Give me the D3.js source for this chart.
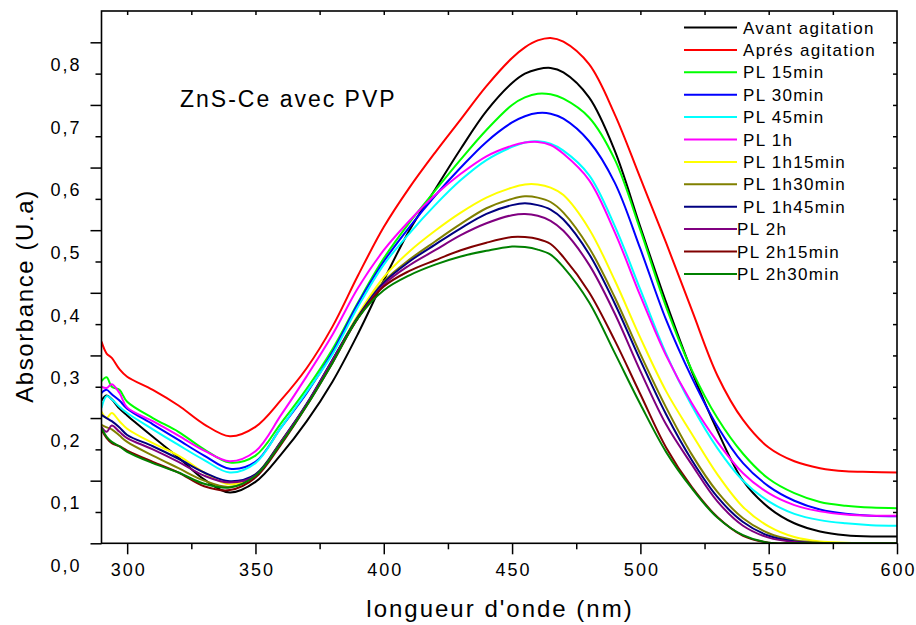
<!DOCTYPE html>
<html>
<head>
<meta charset="utf-8">
<script src="https://cdn.jsdelivr.net/npm/d3@7"></script>
<style>
    body { margin: 0; background: #fff; }
    svg { display: block; }
    text { font-family: "Liberation Sans", Arial, sans-serif; fill: #000; }
</style>
</head>
<body>
<svg id="chart"></svg>
<script>
// Wavelengths (nm) shared by every spectrum
const wavelength = [290, 292, 294, 297, 300, 310, 320, 330, 340, 350, 360, 370, 380, 390, 400, 410, 420, 430, 440, 450, 455, 460, 465, 470, 480, 490, 500, 510, 520, 530, 540, 550, 560, 570, 580, 590, 600];

// Absorbance values
const avantAgitation = [0.228, 0.236, 0.230, 0.215, 0.204, 0.170, 0.137, 0.102, 0.081, 0.098, 0.142, 0.195, 0.258, 0.335, 0.420, 0.500, 0.565, 0.630, 0.690, 0.735, 0.750, 0.757, 0.759, 0.752, 0.712, 0.627, 0.505, 0.385, 0.275, 0.180, 0.100, 0.057, 0.032, 0.019, 0.013, 0.011, 0.011];
const apresAgitation = [0.322, 0.303, 0.296, 0.278, 0.266, 0.245, 0.220, 0.190, 0.171, 0.186, 0.229, 0.280, 0.346, 0.428, 0.505, 0.568, 0.624, 0.677, 0.730, 0.775, 0.792, 0.803, 0.807, 0.801, 0.765, 0.685, 0.583, 0.480, 0.373, 0.268, 0.197, 0.153, 0.131, 0.120, 0.115, 0.114, 0.113];
const pl15 = [0.259, 0.265, 0.250, 0.245, 0.226, 0.200, 0.178, 0.150, 0.129, 0.140, 0.192, 0.247, 0.310, 0.385, 0.455, 0.512, 0.563, 0.613, 0.660, 0.700, 0.712, 0.718, 0.717, 0.710, 0.680, 0.613, 0.500, 0.378, 0.277, 0.200, 0.143, 0.103, 0.080, 0.066, 0.060, 0.057, 0.056];
const pl30 = [0.240, 0.245, 0.238, 0.228, 0.215, 0.190, 0.165, 0.140, 0.119, 0.130, 0.185, 0.240, 0.305, 0.383, 0.450, 0.505, 0.555, 0.600, 0.641, 0.672, 0.682, 0.687, 0.686, 0.678, 0.642, 0.576, 0.470, 0.357, 0.265, 0.187, 0.128, 0.091, 0.068, 0.054, 0.047, 0.044, 0.043];
const pl45 = [0.216, 0.235, 0.230, 0.218, 0.208, 0.182, 0.157, 0.133, 0.113, 0.128, 0.185, 0.242, 0.302, 0.378, 0.445, 0.495, 0.540, 0.580, 0.612, 0.633, 0.640, 0.642, 0.638, 0.627, 0.588, 0.507, 0.405, 0.303, 0.220, 0.152, 0.100, 0.067, 0.047, 0.037, 0.032, 0.029, 0.028];
const pl1h = [0.250, 0.248, 0.254, 0.240, 0.217, 0.195, 0.172, 0.148, 0.131, 0.147, 0.205, 0.267, 0.333, 0.408, 0.468, 0.515, 0.556, 0.590, 0.618, 0.635, 0.640, 0.641, 0.636, 0.622, 0.580, 0.497, 0.395, 0.300, 0.224, 0.162, 0.112, 0.080, 0.061, 0.051, 0.046, 0.044, 0.044];
const pl1h15 = [0.210, 0.200, 0.208, 0.195, 0.183, 0.160, 0.140, 0.113, 0.094, 0.110, 0.163, 0.222, 0.292, 0.365, 0.425, 0.466, 0.499, 0.528, 0.552, 0.568, 0.573, 0.573, 0.568, 0.556, 0.502, 0.420, 0.328, 0.243, 0.175, 0.110, 0.058, 0.027, 0.010, 0.003, 0.001, 0, 0];
const pl1h30 = [0.189, 0.185, 0.182, 0.172, 0.162, 0.140, 0.120, 0.100, 0.090, 0.108, 0.162, 0.222, 0.292, 0.362, 0.418, 0.453, 0.482, 0.510, 0.535, 0.550, 0.554, 0.552, 0.545, 0.528, 0.472, 0.393, 0.302, 0.217, 0.142, 0.082, 0.040, 0.016, 0.005, 0.001, 0, 0, 0];
const pl1h45 = [0.205, 0.200, 0.195, 0.185, 0.173, 0.155, 0.135, 0.113, 0.099, 0.110, 0.163, 0.223, 0.293, 0.362, 0.416, 0.450, 0.477, 0.503, 0.526, 0.540, 0.543, 0.540, 0.533, 0.517, 0.462, 0.383, 0.292, 0.206, 0.133, 0.074, 0.034, 0.012, 0.003, 0, 0, 0, 0];
const pl2h = [0.186, 0.178, 0.188, 0.178, 0.168, 0.150, 0.130, 0.108, 0.097, 0.108, 0.162, 0.222, 0.292, 0.360, 0.413, 0.444, 0.468, 0.492, 0.511, 0.524, 0.526, 0.523, 0.515, 0.499, 0.445, 0.367, 0.275, 0.190, 0.126, 0.067, 0.028, 0.009, 0.002, 0, 0, 0, 0];
const pl2h15 = [0.181, 0.168, 0.160, 0.155, 0.148, 0.130, 0.113, 0.091, 0.085, 0.105, 0.158, 0.220, 0.288, 0.360, 0.410, 0.435, 0.452, 0.468, 0.480, 0.489, 0.489, 0.486, 0.478, 0.457, 0.401, 0.324, 0.238, 0.153, 0.090, 0.042, 0.012, 0.001, 0, 0, 0, 0, 0];
const pl2h30 = [0.184, 0.170, 0.162, 0.155, 0.146, 0.128, 0.113, 0.095, 0.089, 0.108, 0.160, 0.220, 0.288, 0.360, 0.404, 0.428, 0.445, 0.458, 0.467, 0.474, 0.473, 0.469, 0.461, 0.441, 0.385, 0.304, 0.222, 0.146, 0.088, 0.041, 0.013, 0.001, 0, 0, 0, 0, 0];

const seriesLabels = ["Avant agitation", "Aprés agitation", "PL 15min", "PL 30min", "PL 45min", "PL 1h", "PL 1h15min", "PL 1h30min", "PL 1h45min", "PL 2h", "PL 2h15min", "PL 2h30min"];
const seriesColors = ["#000000", "#ff0000", "#00ff00", "#0000ff", "#00ffff", "#ff00ff", "#ffff00", "#808000", "#000080", "#800080", "#800000", "#008000"];
const seriesValues = [avantAgitation, apresAgitation, pl15, pl30, pl45, pl1h, pl1h15, pl1h30, pl1h45, pl2h, pl2h15, pl2h30];

// Tick values
const xMajor = [300, 350, 400, 450, 500, 550, 600];
const xMinor = [325, 375, 425, 475, 525, 575];
const xTopTicks = [300, 325, 350, 375, 400, 425, 450, 475, 500, 525, 550, 575];
const yMajor = [0, 0.1, 0.2, 0.3, 0.4, 0.5, 0.6, 0.7, 0.8];
const yMinor = [0.05, 0.15, 0.25, 0.35, 0.45, 0.55, 0.65, 0.75];
const yRightTicks = [0.05, 0.1, 0.15, 0.2, 0.25, 0.3, 0.35, 0.4, 0.45, 0.5, 0.55, 0.6, 0.65, 0.7, 0.75, 0.8];

const width = 916;
const height = 625;
const plot = { left: 101.5, right: 897, top: 11, bottom: 543.3 };

const svg = d3.select("#chart").attr("width", width).attr("height", height);

const x = d3.scaleLinear().domain([290, 600]).range([plot.left, plot.right]);
const y = d3.scaleLinear().domain([0, 0.85]).range([plot.bottom, plot.top]);

// Curves
svg.append("clipPath").attr("id", "clip")
    .append("rect")
    .attr("x", plot.left).attr("y", plot.top)
    .attr("width", plot.right - plot.left).attr("height", plot.bottom - plot.top);

const line = d3.line()
    .x((d, i) => x(wavelength[i]))
    .y((d) => y(d))
    .curve(d3.curveCatmullRom.alpha(0.5));

svg.append("g")
    .attr("clip-path", "url(#clip)")
    .selectAll("path")
    .data(seriesValues)
    .join("path")
    .attr("d", line)
    .attr("fill", "none")
    .attr("stroke", (d, i) => seriesColors[i])
    .attr("stroke-width", 2)
    .attr("stroke-linejoin", "round");

// Axes
const fmt = (v) => d3.format(".1f")(v).replace(".", ",");

function styleAxis(g) {
    g.select(".domain").remove();
    g.selectAll(".tick line").attr("stroke", "#000").attr("stroke-width", 1.5);
}

svg.append("g")
    .attr("transform", `translate(0,${plot.bottom})`)
    .call(d3.axisBottom(x).tickValues(xMajor).tickSize(11).tickPadding(9).tickFormat(d3.format("d")))
    .call(styleAxis)
    .call((g) => g.selectAll("text")
        .attr("font-size", 18).attr("letter-spacing", "2px").attr("dx", "1px")
        .style("font-family", '"Liberation Sans", Arial, sans-serif'));

svg.append("g")
    .attr("transform", `translate(0,${plot.bottom})`)
    .call(d3.axisBottom(x).tickValues(xMinor).tickSize(6).tickFormat(""))
    .call(styleAxis);

svg.append("g")
    .attr("transform", `translate(${plot.left},0)`)
    .call(d3.axisLeft(y).tickValues(yMajor).tickSize(11).tickPadding(9).tickFormat(fmt))
    .call(styleAxis)
    .call((g) => g.selectAll("text")
        .attr("font-size", 18).attr("letter-spacing", "2px").attr("y", 22.5)
        .style("font-family", '"Liberation Sans", Arial, sans-serif'));

svg.append("g")
    .attr("transform", `translate(${plot.left},0)`)
    .call(d3.axisLeft(y).tickValues(yMinor).tickSize(6).tickFormat(""))
    .call(styleAxis);

svg.append("g")
    .attr("transform", `translate(0,${plot.top})`)
    .call(d3.axisBottom(x).tickValues(xTopTicks).tickSize(4).tickFormat(""))
    .call(styleAxis);

svg.append("g")
    .attr("transform", `translate(${plot.right},0)`)
    .call(d3.axisLeft(y).tickValues(yRightTicks).tickSize(4).tickFormat(""))
    .call(styleAxis);

svg.append("rect")
    .attr("x", plot.left).attr("y", plot.top)
    .attr("width", plot.right - plot.left).attr("height", plot.bottom - plot.top)
    .attr("fill", "none").attr("stroke", "#000").attr("stroke-width", 1.6);

// Titles
svg.append("text")
    .attr("x", 500).attr("y", 617)
    .attr("text-anchor", "middle")
    .attr("font-size", 24).attr("letter-spacing", "2px")
    .text("longueur d'onde (nm)");

svg.append("text")
    .attr("transform", "translate(33,296) rotate(-90)")
    .attr("text-anchor", "middle")
    .attr("font-size", 24).attr("letter-spacing", "1.6px")
    .text("Absorbance (U.a)");

svg.append("text")
    .attr("x", 180).attr("y", 107)
    .attr("font-size", 23).attr("letter-spacing", "2px")
    .text("ZnS-Ce avec PVP");

// Legend
const legend = svg.append("g")
    .selectAll("g")
    .data(seriesLabels)
    .join("g")
    .attr("transform", (d, i) => `translate(0,${27.5 + i * 22.4})`);

legend.append("line")
    .attr("x1", 684).attr("x2", 737)
    .attr("stroke", (d, i) => seriesColors[i])
    .attr("stroke-width", 2);

legend.append("text")
    .attr("x", (d, i) => (i >= 9 ? 737 : 743))
    .attr("y", 6)
    .attr("font-size", 17).attr("letter-spacing", "1.3px")
    .text((d) => d);
</script>
</body>
</html>
